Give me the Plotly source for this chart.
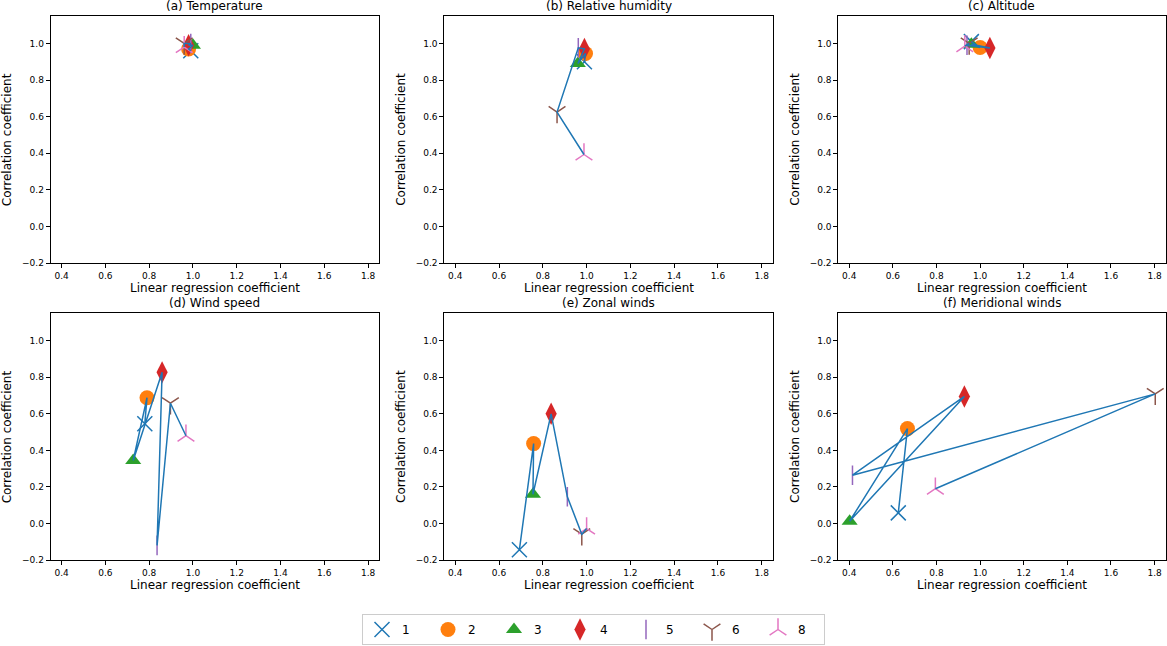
import plotly.graph_objects as go

W, H = 1167, 646

CATEGORIES = ["1", "2", "3", "4", "5", "6", "8"]
COLORS = ["#1f77b4", "#ff7f0e", "#2ca02c", "#d62728", "#9467bd", "#8c564b", "#e377c2"]
SYMBOLS = ["x-thin-open", "circle", "triangle-up", "diamond-tall",
           "line-ns-open", "y-down-open", "y-up-open"]
SIZES = [15, 15, 14, 16, 14, 14, 14]

PANEL_TITLES = ["(a) Temperature", "(b) Relative humidity", "(c) Altitude",
                "(d) Wind speed", "(e) Zonal winds", "(f) Meridional winds"]

# linear regression coefficient (x) / correlation coefficient (y), one per category
temp_reg = [0.99, 0.98, 1.00, 0.98, 0.99, 0.96, 0.96]
temp_corr = [0.96, 0.97, 0.99, 0.99, 1.00, 1.00, 0.98]

rh_reg = [0.99, 0.995, 0.96, 0.99, 0.962, 0.865, 0.988]
rh_corr = [0.90, 0.945, 0.89, 0.97, 0.976, 0.625, 0.393]

alt_reg = [0.96, 1.00, 0.96, 1.045, 0.94, 0.95, 0.93]
alt_corr = [1.01, 0.978, 0.995, 0.975, 0.99, 1.00, 0.985]

ws_reg = [0.78, 0.79, 0.727, 0.859, 0.836, 0.897, 0.968]
ws_corr = [0.546, 0.688, 0.345, 0.827, -0.12, 0.658, 0.48]

zonal_reg = [0.693, 0.758, 0.755, 0.838, 0.912, 0.978, 1.0]
zonal_corr = [-0.144, 0.437, 0.16, 0.60, 0.146, -0.059, -0.028]

merid_reg = [0.625, 0.667, 0.402, 0.928, 0.415, 1.803, 0.795]
merid_corr = [0.058, 0.519, 0.012, 0.695, 0.264, 0.709, 0.19]

PANELS = [(temp_reg, temp_corr), (rh_reg, rh_corr), (alt_reg, alt_corr),
          (ws_reg, ws_corr), (zonal_reg, zonal_corr), (merid_reg, merid_corr)]

# panel boxes in pixels (left, right) and (top, bottom)
COLS = [(50.7, 379.0), (444.3, 772.7), (838.3, 1165.5)]
ROWS = [(16.0, 263.0), (313.3, 560.0)]

FONT = "DejaVu Sans"

fig = go.Figure()
layout = dict(
    width=W, height=H, margin=dict(l=0, r=0, t=0, b=0),
    paper_bgcolor="white", plot_bgcolor="white",
    font=dict(family=FONT, size=10, color="black"),
    showlegend=True,
    legend=dict(orientation="h", x=593.5 / W, xanchor="center",
                y=1 - 645 / H, yanchor="bottom", bordercolor="#cccccc", borderwidth=1,
                font=dict(family=FONT, size=12), entrywidth=21, itemsizing="trace"),
)
annotations = []

for i, (xs, ys) in enumerate(PANELS):
    r, c = divmod(i, 3)
    n = "" if i == 0 else str(i + 1)
    xl, xr = COLS[c]
    yt, yb = ROWS[r]
    layout["xaxis" + n] = dict(
        domain=[xl / W, xr / W], anchor="y" + n, range=[0.35, 1.85],
        tickvals=[0.4, 0.6, 0.8, 1.0, 1.2, 1.4, 1.6, 1.8], tickformat=".1f",
        showline=True, mirror=True, linecolor="black", linewidth=1,
        ticks="outside", ticklen=4, tickcolor="black", tickwidth=1,
        showgrid=False, zeroline=False, automargin=False,
        tickfont=dict(family=FONT, size=9))
    layout["yaxis" + n] = dict(
        domain=[1 - yb / H, 1 - yt / H], anchor="x" + n, range=[-0.2, 1.15],
        tickvals=[-0.2, 0.0, 0.2, 0.4, 0.6, 0.8, 1.0], tickformat=".1f",
        showline=True, mirror=True, linecolor="black", linewidth=1,
        ticks="outside", ticklen=4, tickcolor="black", tickwidth=1,
        showgrid=False, zeroline=False, automargin=False,
        tickfont=dict(family=FONT, size=9))

    for k, cat in enumerate(CATEGORIES):
        open_sym = SYMBOLS[k].endswith("open")
        fig.add_trace(go.Scatter(
            x=[xs[k]], y=[ys[k]], mode="markers", name=cat,
            legendgroup=cat, showlegend=(i == 0),
            marker=dict(symbol=SYMBOLS[k], size=SIZES[k], color=COLORS[k],
                        line=dict(width=1.5 if open_sym else 0, color=COLORS[k])),
            xaxis="x" + n, yaxis="y" + n))
    fig.add_trace(go.Scatter(
        x=xs, y=ys, mode="lines", line=dict(color="#1f77b4", width=1.5),
        showlegend=False, xaxis="x" + n, yaxis="y" + n))

    cx = (xl + xr) / 2 / W
    annotations.append(dict(text=PANEL_TITLES[i], x=cx, y=1 - (yt - 10) / H,
                            xref="paper", yref="paper", showarrow=False,
                            xanchor="center", yanchor="middle",
                            font=dict(family=FONT, size=12)))
    annotations.append(dict(text="Linear regression coefficient", x=cx,
                            y=1 - (yb + 25) / H, xref="paper", yref="paper",
                            showarrow=False, xanchor="center", yanchor="middle",
                            font=dict(family=FONT, size=12)))
    annotations.append(dict(text="Correlation coefficient", x=(xl - 44) / W,
                            y=1 - (yt + yb) / 2 / H, xref="paper", yref="paper",
                            showarrow=False, textangle=-90, xanchor="center",
                            yanchor="middle", font=dict(family=FONT, size=12)))

layout["annotations"] = annotations
fig.update_layout(**layout)
fig.write_html("out.html", config={"displayModeBar": False},
               post_script="document.body.style.margin='0';")
